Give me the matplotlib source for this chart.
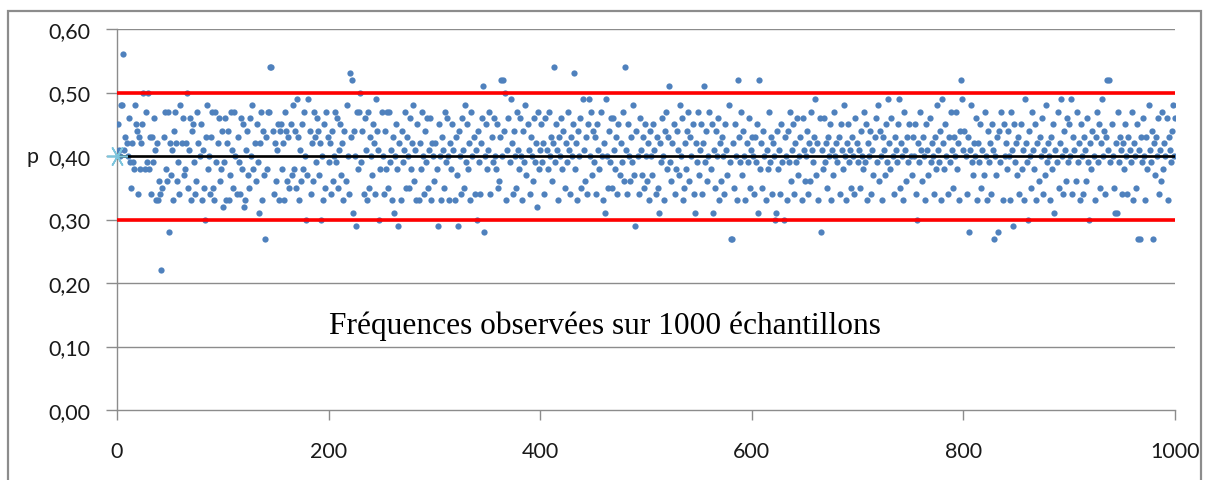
import numpy as np
import matplotlib
matplotlib.use('Agg')
import matplotlib.pyplot as plt
from matplotlib.patches import Rectangle

# ============================== données ==============================
# fréquences observées (en centièmes), échantillons 1..1000
freq_txt = """
45 41 40 48 48 56 41 43 42 40 | 46 39 35 42 39 38 48 45 44 34 | 43 38 42 45 50 38 47 39 50 38 | 43 34 43 39 46 41 33 42 33 36 | 34 22 35 43 47 38 36 47 28 42
37 41 33 44 47 42 36 39 34 48 | 42 46 37 38 42 50 35 41 46 33 | 44 45 39 34 36 47 42 40 45 33 | 41 35 30 43 48 38 40 34 43 47 | 35 33 47 39 42 46 36 38 44 32
39 46 33 42 44 33 37 47 41 35 | 47 40 34 43 39 34 46 38 45 32 | 33 41 44 37 35 46 40 48 38 42 | 36 45 39 31 42 47 33 44 37 27 | 43 38 47 47 54 54 44 34 42 36
41 45 33 44 45 38 42 33 47 44 | 36 43 35 45 37 48 38 44 35 49 | 43 33 41 36 45 38 47 40 30 37 | 49 44 34 42 36 47 43 39 46 44 | 37 42 30 40 33 45 35 47 43 39
42 34 44 36 40 47 39 46 35 41 | 45 37 42 33 44 36 48 40 34 53 | 43 52 31 44 40 29 47 38 47 50 | 39 44 34 46 41 33 47 35 43 40 | 37 45 42 34 49 44 41 30 38 47
40 34 44 38 47 35 47 39 41 33 | 43 31 40 45 38 29 42 33 44 39 | 41 47 35 43 40 35 46 38 42 48 | 36 41 33 45 33 42 38 47 40 34 | 44 39 46 35 41 46 33 42 40 36
42 38 29 45 40 33 43 41 35 47 | 39 46 40 33 42 38 45 41 33 43 | 37 29 44 40 34 46 41 35 48 39 | 45 38 42 33 47 40 43 34 41 30 | 44 39 34 42 46 51 28 40 45 38
41 47 34 43 39 46 40 38 45 35 | 36 43 52 40 52 44 50 33 41 46 | 39 49 42 34 44 40 35 47 41 38 | 46 40 33 44 39 48 37 45 41 34 | 43 40 36 46 39 42 32 47 38 41
45 39 42 34 46 41 38 47 40 43 | 36 42 54 39 45 41 33 43 40 46 | 38 44 35 42 39 47 41 34 43 40 | 45 53 38 42 33 44 40 46 35 49 | 41 36 43 34 45 49 40 47 37 44
39 43 34 45 41 38 47 40 33 42 | 31 49 40 35 44 39 46 35 46 41 | 38 43 34 45 37 42 39 47 36 54 | 41 34 45 40 36 43 39 48 37 29 | 44 40 34 46 41 37 43 35 45 40
36 42 33 44 40 37 45 41 34 43 | 35 31 42 39 46 40 33 44 47 38 | 43 51 39 36 42 45 34 38 44 41 | 37 48 40 46 33 35 42 38 44 47 | 36 43 40 45 34 31 42 39 47 37
41 45 34 42 51 39 44 36 40 47 | 38 45 31 41 35 44 40 46 33 42 | 36 43 40 34 45 41 37 48 39 27 | 27 42 35 45 40 33 52 43 39 47 | 37 44 40 33 42 39 46 35 41 43
40 34 43 39 45 31 52 38 42 35 | 44 40 33 41 38 47 39 43 34 42 | 40 30 31 44 38 41 34 45 39 30 | 43 40 33 44 39 47 36 41 45 34 | 42 39 46 37 40 43 33 46 41 36
40 44 34 42 36 47 41 39 43 49 | 37 42 33 46 28 41 38 46 39 42 | 35 43 40 45 33 41 37 47 40 42 | 39 43 34 45 41 38 48 40 33 42 | 45 39 41 35 43 40 34 46 42 39
41 35 44 40 38 47 39 45 33 42 | 40 44 34 41 37 43 46 39 48 36 | 44 40 33 43 41 37 45 39 49 42 | 38 46 40 34 43 41 39 45 49 35 | 42 40 33 47 41 36 43 39 45 40
37 43 40 45 34 30 42 39 47 41 | 36 43 40 33 45 41 37 46 39 42 | 40 34 43 38 48 41 39 44 33 49 | 42 38 45 40 34 43 39 47 41 35 | 43 40 47 38 42 33 44 52 49 41
44 40 34 43 28 41 48 39 37 42 | 40 46 33 42 39 45 35 41 37 47 | 40 33 44 39 42 34 45 41 27 40 | 37 43 28 44 39 47 33 45 40 42 | 38 44 40 33 47 41 29 45 39 42
37 43 34 45 38 41 33 49 42 39 | 30 44 40 35 47 41 38 45 33 42 | 36 43 40 46 34 41 37 48 39 42 | 40 33 43 38 45 31 41 39 47 35 | 42 49 40 34 44 41 36 46 39 45
40 49 34 43 41 36 47 39 42 33 | 45 40 34 43 41 36 46 39 30 42 | 38 44 40 33 43 47 39 45 35 42 | 49 40 44 34 43 52 41 52 39 45 | 40 35 31 42 31 47 39 43 41 34
42 38 45 40 34 43 41 39 47 33 | 42 40 35 45 27 41 27 43 39 46 | 40 33 43 38 48 41 39 44 27 42 | 37 43 40 46 34 41 36 47 38 42 | 40 46 33 43 41 39 44 48 40 46
"""
freq = np.array([int(v) for v in freq_txt.replace('|', ' ').split()]) / 100
echantillons = np.arange(1, len(freq) + 1)

p_theo = 0.40
lim_basse = 0.30
lim_haute = 0.50

xticks = [0, 200, 400, 600, 800, 1000]
yticks = [0.0, 0.1, 0.2, 0.3, 0.4, 0.5, 0.6]
ytick_labels = ['0,00', '0,10', '0,20', '0,30', '0,40', '0,50', '0,60']

titre = 'Fréquences observées sur 1000 échantillons'

# ============================== figure ==============================
plt.rcParams['font.family'] = ['Lato', 'DejaVu Sans']

fig = plt.figure(figsize=(12.12, 4.81), dpi=100)
ax = fig.add_axes([117 / 1212, 1 - 411 / 481, (1175 - 117) / 1212, (411 - 30) / 481])

# cadre extérieur
fig.patches.append(Rectangle((8 / 1212, -0.05), (1201 - 8) / 1212, 1.05 - 12 / 481,
                             transform=fig.transFigure, fill=False,
                             edgecolor='#8c8c8c', linewidth=1.6))

# quadrillage horizontal
for y in yticks[1:]:
    ax.axhline(y, color='#8c8c8c', linewidth=1.0, zorder=0)

# points
ax.plot(echantillons, freq, linestyle='none', marker='o', markersize=4.5,
        color='#4f81bd', markeredgewidth=0, zorder=3)

# droites de référence
ax.plot([0, 1000], [lim_haute, lim_haute], color='#ff0000', linewidth=2.6, zorder=4)
ax.plot([0, 1000], [lim_basse, lim_basse], color='#ff0000', linewidth=2.6, zorder=4)
ax.plot([0, 1000], [p_theo, p_theo], color='black', linewidth=1.9, zorder=4)
ax.plot([0], [p_theo], linestyle='none', marker=(6, 2, 90), markersize=15,
        color='#7cc4dc', markeredgewidth=1.2, zorder=5, clip_on=False)

ax.set_xlim(0, 1000)
ax.set_ylim(0, 0.6)
ax.set_xticks(xticks)
ax.set_xticklabels([str(x) for x in xticks])
ax.set_yticks(yticks)
ax.set_yticklabels(ytick_labels)

for s in ['top', 'right']:
    ax.spines[s].set_visible(False)
for s in ['left', 'bottom']:
    ax.spines[s].set_color('#8c8c8c')
    ax.spines[s].set_linewidth(1.0)

ax.tick_params(axis='y', direction='out', length=8, width=1, color='#8c8c8c',
               labelsize=15.5, labelcolor='#1a1a1a', pad=11)
ax.tick_params(axis='x', direction='out', length=7, width=1, color='#8c8c8c',
               labelsize=15.5, labelcolor='#1a1a1a', pad=15)

ax.text(461, 0.133, titre, ha='center', va='center', fontsize=22.6,
        family=['Liberation Serif', 'DejaVu Serif'], color='black')

fig.text(33 / 1212, 1 - 157 / 481, 'p', ha='center', va='center', fontsize=15.5, color='#1a1a1a')

plt.savefig('out.png', dpi=100)
